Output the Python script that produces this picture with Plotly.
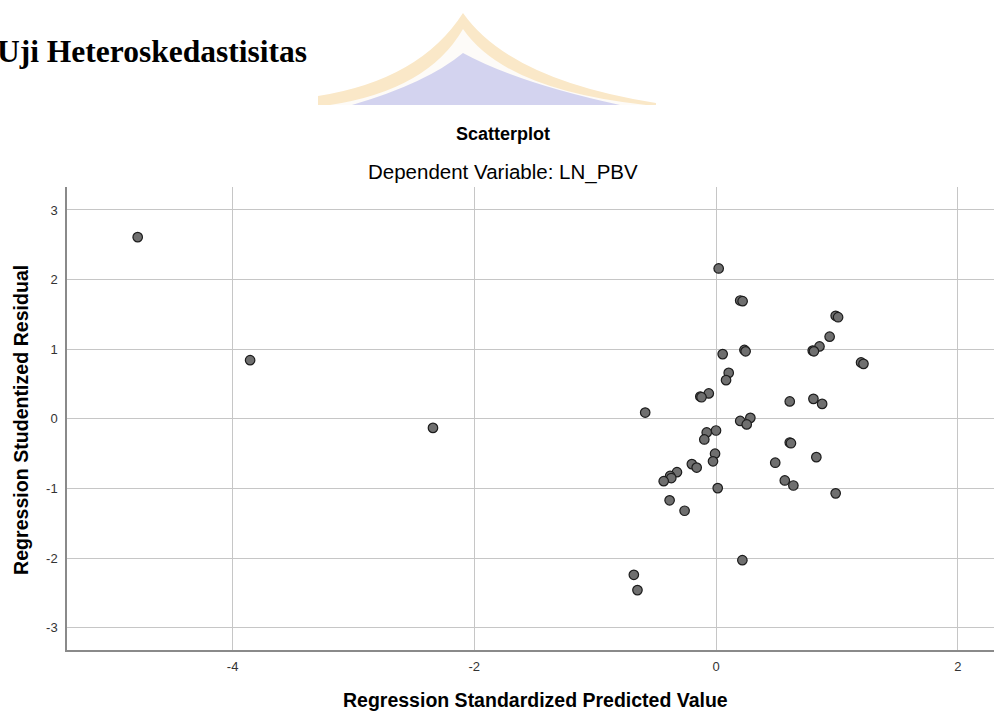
import plotly.graph_objects as go

# ---- data ----
pred_value = [
    -4.785, -3.855, -2.342,
    0.022, 0.20, 0.22, 0.99, 1.01, 0.94, 0.856, 0.80, 0.81, 1.20, 1.22,
    0.235, 0.245, 0.055, 0.105, 0.083, -0.06, -0.13, -0.12, -0.586,
    0.61, 0.806, 0.878, 0.20, 0.284, 0.254, 0.0, -0.077, -0.097,
    0.61, 0.62, -0.008, -0.025, 0.49, 0.83, -0.20, -0.16, -0.323,
    -0.38, -0.37, -0.433, 0.569, 0.64, 0.014, 0.99, -0.384, -0.26,
    0.218, -0.68, -0.65,
]
stud_resid = [
    2.61, 0.843, -0.13,
    2.16, 1.70, 1.69, 1.48, 1.46, 1.18, 1.04, 0.98, 0.97, 0.81, 0.79,
    0.99, 0.97, 0.93, 0.66, 0.556, 0.365, 0.32, 0.31, 0.09,
    0.25, 0.287, 0.215, -0.03, 0.014, -0.08, -0.167, -0.195, -0.296,
    -0.34, -0.35, -0.50, -0.61, -0.63, -0.55, -0.65, -0.70, -0.766,
    -0.82, -0.85, -0.895, -0.885, -0.957, -0.995, -1.07, -1.17, -1.32,
    -2.03, -2.24, -2.46,
]
x_ticks = [-4, -2, 0, 2]
y_ticks = [-3, -2, -1, 0, 1, 2, 3]

page_heading = "Uji Heteroskedastisitas"
chart_title = "Scatterplot"
chart_subtitle = "Dependent Variable: LN_PBV"
x_title = "Regression Standardized Predicted Value"
y_title = "Regression Studentized Residual"

# ---- layout geometry ----
W, H = 994, 713
L, R, T, B = 67, 994, 187, 650


def px(x, y):
    return (x - L) / (R - L), (B - y) / (B - T)


fig = go.Figure()
fig.add_trace(go.Scatter(
    x=pred_value, y=stud_resid, mode="markers",
    marker=dict(size=9.5, color="#6f6f6f", line=dict(color="#1c1c1c", width=1.2)),
    hoverinfo="x+y", showlegend=False,
))

font_sans = "Liberation Sans, Arial, sans-serif"

ann = []
def add_text(text, x, y, size, bold=False, family=font_sans, xanchor="center", angle=0, color="#000000"):
    ax, ay = px(x, y)
    ann.append(dict(
        text=f"<b>{text}</b>" if bold else text, x=ax, y=ay, xref="paper", yref="paper",
        xanchor=xanchor, yanchor="middle", showarrow=False, textangle=angle,
        font=dict(family=family, size=size, color=color),
    ))

add_text(page_heading, -5, 52, 31.5, bold=True, family="Liberation Serif, Times New Roman, serif", xanchor="left")
add_text(chart_title, 503, 134, 18, bold=True)
add_text(chart_subtitle, 503, 172, 20.5)
add_text(x_title, 535, 700, 19.5, bold=True)
add_text(y_title, 21, 420, 19.6, bold=True, angle=-90)


# decorative watermark (background roof shape of the document)
def P(x, y):
    a, b = px(x, y)
    return f"{a:.5f},{b:.5f}"

orange_path = (f"M{P(463,13)} Q{P(420,80)} {P(318,96)} L{P(318,105)} L{P(656,105)} "
               f"L{P(656,103)} Q{P(510,80)} {P(463,13)} Z")
white_path = (f"M{P(463,29)} Q{P(428,90)} {P(330,105)} L{P(646,105)} Q{P(505,90)} {P(463,29)} Z")
lav_path = (f"M{P(463,53)} Q{P(427,83)} {P(352,105)} L{P(620,105)} Q{P(518,83)} {P(463,53)} Z")

shapes = [
    dict(type="path", path=orange_path, xref="paper", yref="paper", fillcolor="#fae8c8", line=dict(width=0), layer="below"),
    dict(type="path", path=white_path, xref="paper", yref="paper", fillcolor="#fdfbf8", line=dict(width=0), layer="below"),
    dict(type="path", path=lav_path, xref="paper", yref="paper", fillcolor="#d3d3ef", line=dict(width=0), layer="below"),
]

axis_common = dict(
    showgrid=True, gridcolor="#c6c6c6", gridwidth=1.2,
    zeroline=False, showline=True, linecolor="#8a8a8a", linewidth=1.5,
    ticks="", tickfont=dict(family=font_sans, size=13, color="#333333"),
    fixedrange=True,
)

fig.update_layout(
    width=W, height=H,
    margin=dict(l=L, r=W - R, t=T, b=H - B, pad=0),
    paper_bgcolor="white", plot_bgcolor="white",
    xaxis=dict(range=[-5.37, 2.30], tickvals=x_ticks, ticktext=[str(v) for v in x_ticks],
               ticklabelstandoff=4, mirror=False, **axis_common),
    yaxis=dict(range=[-3.32, 3.33], tickvals=y_ticks, ticktext=[str(v) for v in y_ticks],
               ticklabelstandoff=5, mirror=False, **axis_common),
    annotations=ann,
    shapes=shapes,
    showlegend=False,
)

fig.write_html(
    "out.html",
    config={"displayModeBar": False},
    post_script="document.body.style.margin='0';document.body.style.overflow='hidden';",
)
